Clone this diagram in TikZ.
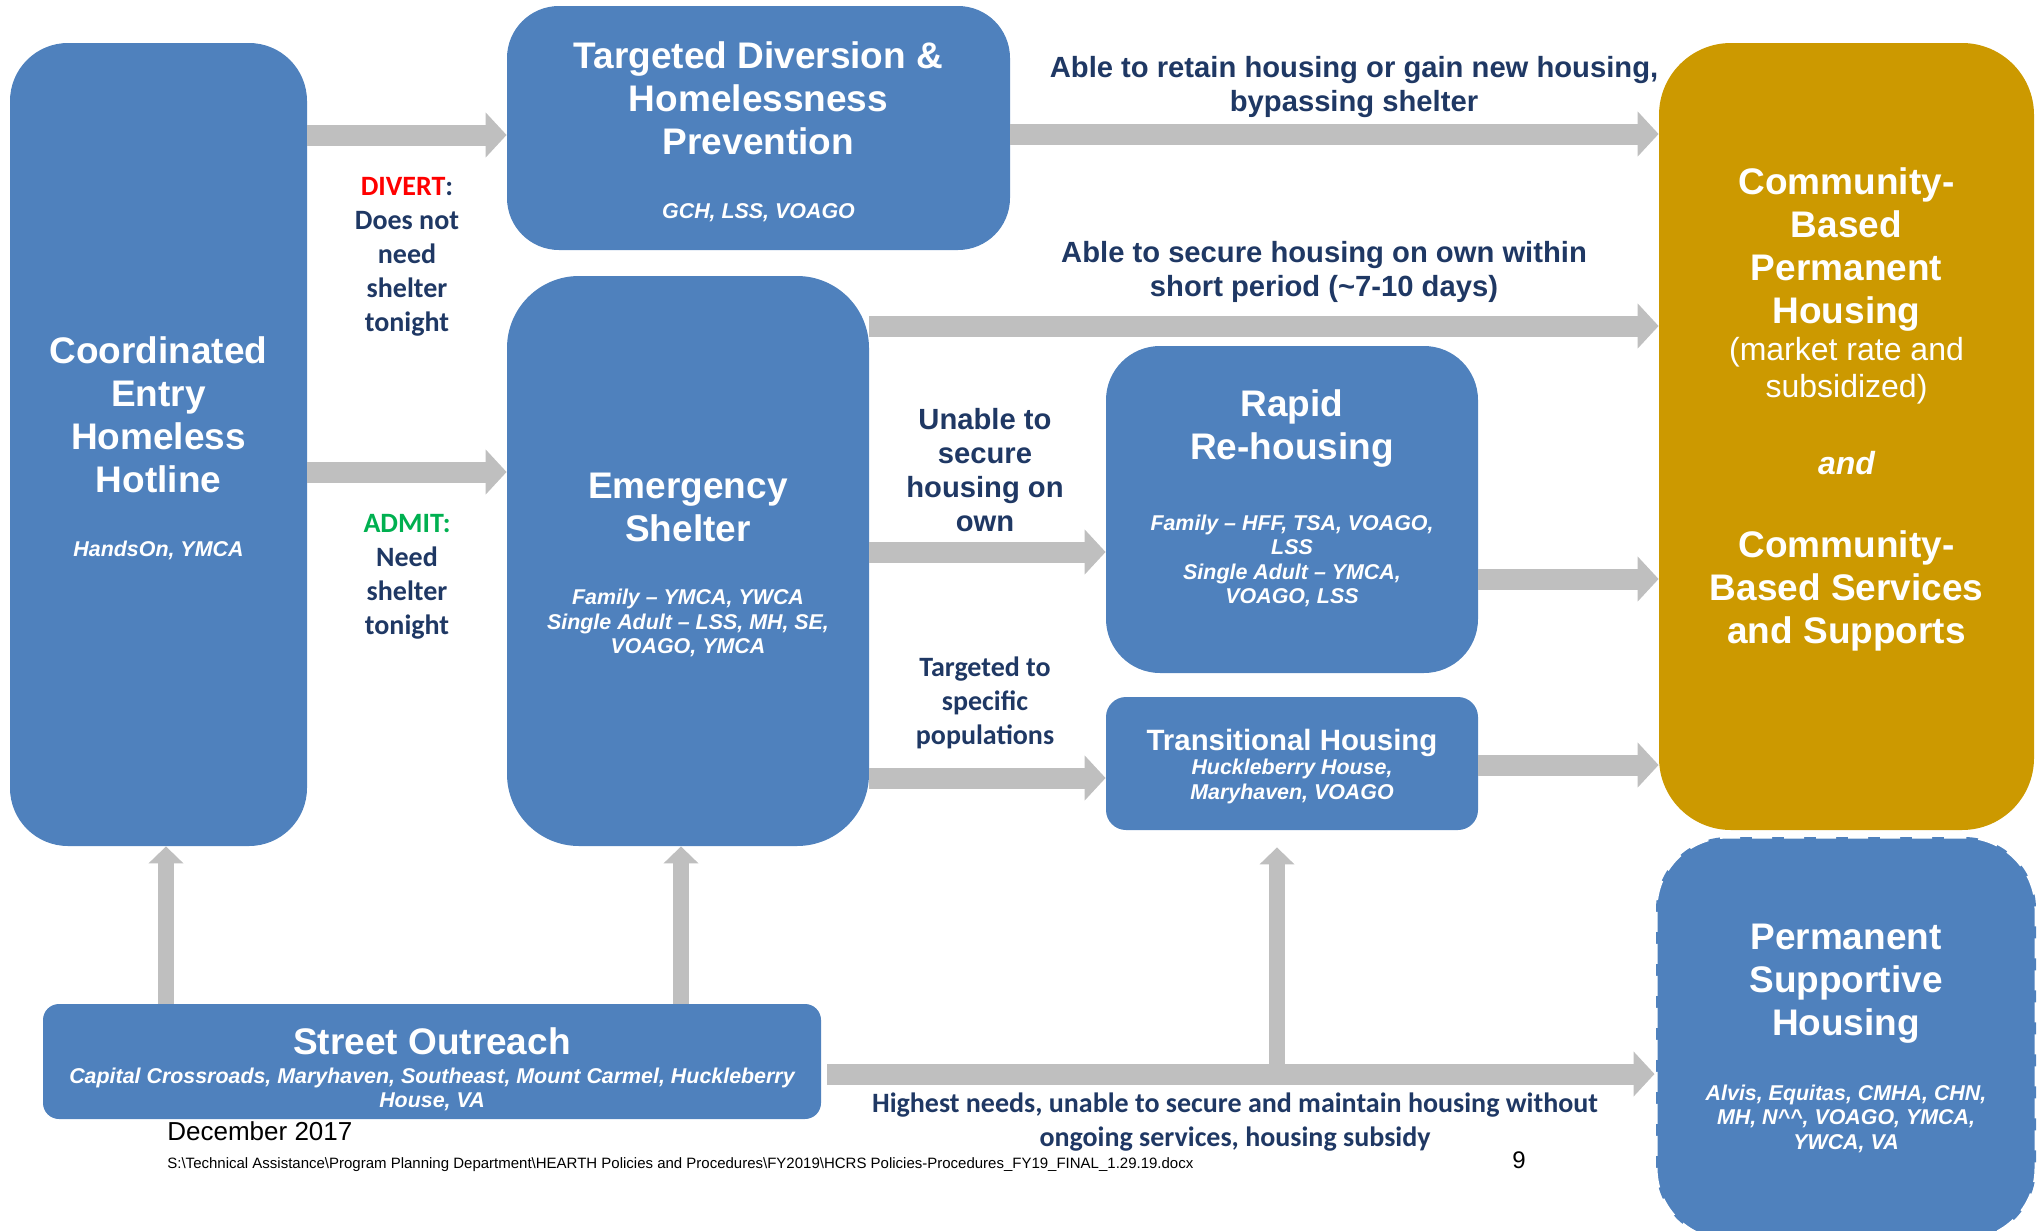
\documentclass[tikz,border=0pt]{standalone}
\usepackage{fontspec}
\setmainfont{Liberation Sans}
\newfontfamily\calibrifont{Carlito}
\usepackage{tikz}
\usetikzlibrary{shapes}
\usetikzlibrary{arrows.meta}
\setlength{\parindent}{0pt}
\definecolor{boxblue}{RGB}{79,129,189}
\definecolor{boxgold}{RGB}{204,153,0}
\definecolor{flowgray}{RGB}{191,191,191}
\definecolor{labelnavy}{RGB}{31,56,100}
\definecolor{divertred}{RGB}{255,0,0}
\definecolor{admitgreen}{RGB}{0,176,80}
\newcommand{\orgstyle}{\itshape\fontsize{10.7}{12.2}\selectfont}
\tikzset{
  boxnode/.style = {align=flush center, inner sep=0pt, text=white,
    font=\bfseries\fontsize{18.5}{21.5}\selectfont},
  blue_box/.style = {boxnode, rectangle, fill=boxblue},% boite bleue
  gold_box/.style = {boxnode, rectangle, fill=boxgold},% boite or
  dash_box/.style = {blue_box, draw=white, line width=1.5pt,
    dash pattern=on 10pt off 6pt},% boite bleue pointillee
  flow_label/.style = {align=center, inner sep=0pt, text=labelnavy,
    font=\calibrifont\bfseries\fontsize{14}{17}\selectfont},% texte des fleches
  arial_label/.style = {flow_label,
    font=\bfseries\fontsize{14.6}{17}\selectfont},% texte des fleches, arial
  flow/.style = {draw=flowgray, line width=10.5pt,
    -{Triangle[width=22pt, length=10.5pt]}},% fleche grise
  flow_up/.style = {draw=flowgray, line width=8pt,
    -{Triangle[width=17pt, length=8.5pt]}},% fleche grise verticale
  footer/.style = {inner sep=0pt, anchor=base west, text=black}
}

\begin{document}
\begin{tikzpicture}[x=0.5pt, y=-0.5pt]
    \useasboundingbox (0,0) rectangle (2040,1231);
    % pied de page
    \node [footer, font=\fontsize{13}{15}\selectfont] (date) at (167,1140) {December 2017};
    \node [footer, font=\fontsize{7.5}{9}\selectfont] (path) at (167,1168)
      {S:\textbackslash Technical Assistance\textbackslash Program Planning Department\textbackslash HEARTH Policies and Procedures\textbackslash FY2019\textbackslash HCRS Policies-Procedures\_FY19\_FINAL\_1.29.19.docx};
    \node [footer, font=\fontsize{12}{14}\selectfont] (page) at (1512,1168) {9};
    % boites
    \node [blue_box, rounded corners=29pt, text width=148.5pt, minimum height=401.5pt]
      (ce) at (158.5,444.5) {Coordinated\\Entry\\Homeless\\Hotline\par
        \vspace{20pt}\orgstyle HandsOn, YMCA\par\vspace{-4pt}};
    \node [blue_box, rounded corners=26pt, text width=251.5pt, minimum height=122pt]
      (td) at (758.5,128) {Targeted Diversion \&\\Homelessness\\Prevention\par
        \vspace{20pt}\orgstyle GCH, LSS, VOAGO\par\vspace{-4pt}};
    \node [blue_box, rounded corners=36pt, text width=181pt, minimum height=285pt]
      (es) at (688,561) {Emergency\\Shelter\par
        \vspace{19.5pt}\orgstyle Family -- YMCA, YWCA\\Single Adult -- LSS, MH, SE,\\VOAGO, YMCA\par
        \vspace{-4pt}};
    \node [blue_box, rounded corners=27pt, text width=186pt, minimum height=163.5pt]
      (rr) at (1292,509.5) {Rapid\\Re-housing\par
        \vspace{23pt}\orgstyle Family -- HFF, TSA, VOAGO,\\LSS\\Single Adult -- YMCA,\\VOAGO, LSS\par
        \vspace{11pt}};
    \node [blue_box, rounded corners=10pt, text width=186pt, minimum height=66.5pt]
      (th) at (1292,763.5) {{\fontsize{14.7}{17}\selectfont Transitional Housing\par}
        \orgstyle Huckleberry House,\\Maryhaven, VOAGO\par\vspace{-3pt}};
    \node [gold_box, rounded corners=36pt, text width=187.5pt, minimum height=393.5pt]
      (cb) at (1846.5,436.5) {Community-\\Based\\Permanent\\Housing\par
        {\mdseries\fontsize{16}{18.5}\selectfont (market rate and\\subsidized)\par}
        \vspace{20pt}{\itshape\fontsize{16}{18.5}\selectfont and\par}
        \vspace{20pt}Community-\\Based Services\\and Supports\par
        \vspace{27pt}};
    \node [dash_box, rounded corners=36pt, text width=190pt, minimum height=201.5pt]
      (psh) at (1846,1038.5) {Permanent\\Supportive\\Housing\par
        \vspace{20pt}\orgstyle Alvis, Equitas, CMHA, CHN,\\MH, N\textasciicircum\textasciicircum, VOAGO, YMCA,\\YWCA, VA\par};
    \node [blue_box, rounded corners=8pt, text width=389pt, minimum height=57.5pt]
      (so) at (432,1061.5) {Street Outreach\par
        \vspace{2pt}\orgstyle Capital Crossroads, Maryhaven, Southeast, Mount Carmel, Huckleberry\\House, VA\par
        \vspace{-8pt}};
    % textes des fleches
    \node [flow_label] (divert) at (407,257)
      {\textcolor{divertred}{DIVERT}:\\Does not\\need\\shelter\\tonight};
    \node [flow_label] (admit) at (407,577)
      {\textcolor{admitgreen}{ADMIT:}\\Need\\shelter\\tonight};
    \node [arial_label] (retain) at (1354,87)
      {Able to retain housing or gain new housing,\\bypassing shelter};
    \node [arial_label] (secure) at (1324,272)
      {Able to secure housing on own within\\short period (\textasciitilde7-10 days)};
    \node [arial_label] (unable) at (985,470) {Unable to\\secure\\housing on\\own};
    \node [flow_label] (targeted) at (985,703) {Targeted to\\specific\\populations};
    \node [flow_label] (highest) at (1235,1122)
      {Highest needs, unable to secure and maintain housing without\\ongoing services, housing subsidy};
    % fleches
    \draw [flow] (ce.east |- 0,135) -- (td.west |- 0,135);
    \draw [flow] (ce.east |- 0,472) -- (es.west |- 0,472);
    \draw [flow] (td.east |- 0,134) -- (cb.west |- 0,134);
    \draw [flow] (es.east |- 0,326) -- (cb.west |- 0,326);
    \draw [flow] (es.east |- 0,552) -- (rr.west |- 0,552);
    \draw [flow] (es.east |- 0,778) -- (th.west |- 0,778);
    \draw [flow] (rr.east |- 0,579) -- (cb.west |- 0,579);
    \draw [flow] (th.east |- 0,765) -- (cb.west |- 0,765);
    \draw [flow_up] (so.north -| 166,0) -- (ce.south -| 166,0);
    \draw [flow_up] (so.north -| 681,0) -- (es.south -| 681,0);
    \coordinate (split) at (1277,1074);
    \draw [flow, shorten <=3pt] (so.east |- split) -- (psh.west |- split);
    \draw [flow_up, shorten >=8.5pt] (split) -- (th.south -| split);
\end{tikzpicture}
\end{document}
